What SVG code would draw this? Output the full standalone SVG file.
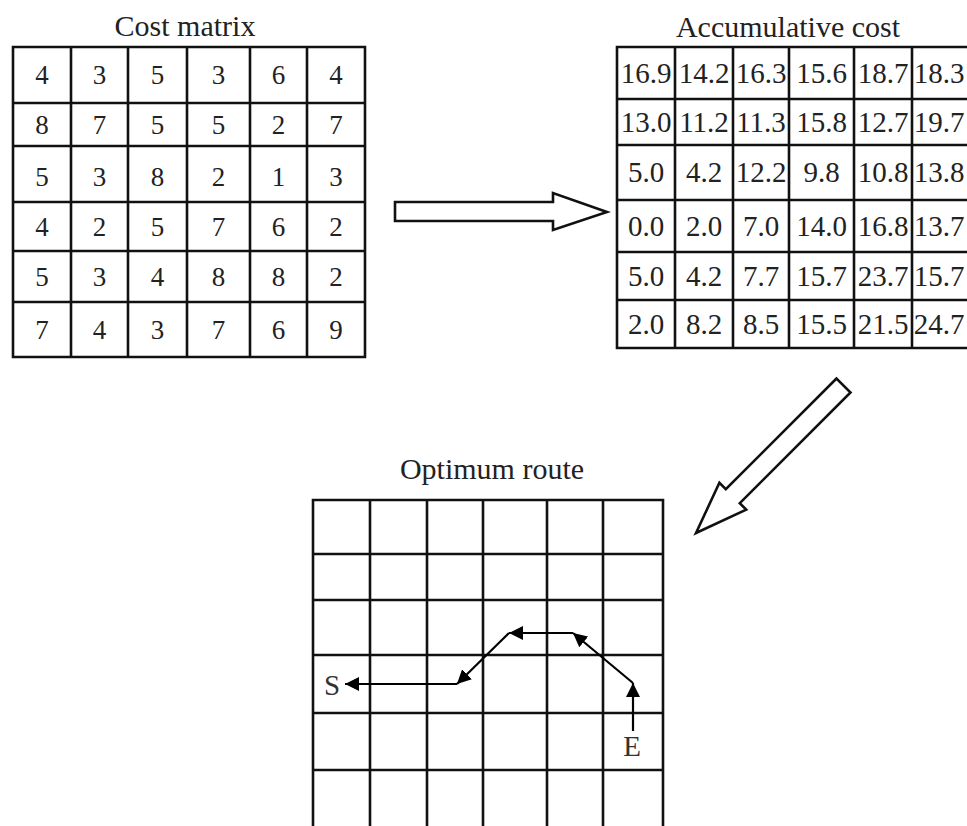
<svg xmlns="http://www.w3.org/2000/svg" width="967" height="826" viewBox="0 0 967 826">
<defs>
<style>
.grid{fill:none;stroke:#111;stroke-width:2.6}
.title{font-family:"Liberation Serif","Times New Roman",serif;font-size:30px;fill:#222;text-anchor:middle}
.num{font-family:"Liberation Serif","Times New Roman",serif;font-size:27px;fill:#222;text-anchor:middle}
.acc{font-family:"Liberation Serif","Times New Roman",serif;font-size:29px;fill:#222;text-anchor:middle}
.lbl{font-family:"Liberation Serif","Times New Roman",serif;font-size:29px;fill:#333;text-anchor:middle}
.big{fill:#fff;stroke:#111;stroke-width:2.6;stroke-linejoin:miter}
.route{fill:none;stroke:#000;stroke-width:2.2}
</style>
<marker id="ah" viewBox="0 0 14 14" markerWidth="14" markerHeight="14" refX="14" refY="7" orient="auto" markerUnits="userSpaceOnUse">
<path d="M0,0 L14,7 L0,14 z" fill="#000"/>
</marker>
</defs>
<rect width="967" height="826" fill="#fff"/>

<g id="cost-matrix">
<text class="title" x="185" y="36">Cost matrix</text>
<path class="grid" d="M13,47H365V357H13Z M71,47V357 M128,47V357 M187,47V357 M250,47V357 M307,47V357 M13,103H365 M13,146H365 M13,202H365 M13,251H365 M13,302H365"/>
<g class="num">
<text x="42" y="84">4</text><text x="99.5" y="84">3</text><text x="157.5" y="84">5</text><text x="218.5" y="84">3</text><text x="278.5" y="84">6</text><text x="336" y="84">4</text>
<text x="42" y="134">8</text><text x="99.5" y="134">7</text><text x="157.5" y="134">5</text><text x="218.5" y="134">5</text><text x="278.5" y="134">2</text><text x="336" y="134">7</text>
<text x="42" y="186">5</text><text x="99.5" y="186">3</text><text x="157.5" y="186">8</text><text x="218.5" y="186">2</text><text x="278.5" y="186">1</text><text x="336" y="186">3</text>
<text x="42" y="236">4</text><text x="99.5" y="236">2</text><text x="157.5" y="236">5</text><text x="218.5" y="236">7</text><text x="278.5" y="236">6</text><text x="336" y="236">2</text>
<text x="42" y="286">5</text><text x="99.5" y="286">3</text><text x="157.5" y="286">4</text><text x="218.5" y="286">8</text><text x="278.5" y="286">8</text><text x="336" y="286">2</text>
<text x="42" y="339">7</text><text x="99.5" y="339">4</text><text x="157.5" y="339">3</text><text x="218.5" y="339">7</text><text x="278.5" y="339">6</text><text x="336" y="339">9</text>
</g>
</g>

<g id="accumulative-cost">
<text class="title" x="788" y="37">Accumulative cost</text>
<path class="grid" d="M972,47H617V348H972 M675,47V348 M733,47V348 M789,47V348 M854,47V348 M912,47V348 M617,99H972 M617,145H972 M617,200H972 M617,252H972 M617,300H972"/>
<g class="acc">
<text x="646" y="83">16.9</text><text x="704" y="83">14.2</text><text x="761" y="83">16.3</text><text x="821.5" y="83">15.6</text><text x="883" y="83">18.7</text><text x="939" y="83">18.3</text>
<text x="646" y="132">13.0</text><text x="704" y="132">11.2</text><text x="761" y="132">11.3</text><text x="821.5" y="132">15.8</text><text x="883" y="132">12.7</text><text x="939" y="132">19.7</text>
<text x="646" y="182">5.0</text><text x="704" y="182">4.2</text><text x="761" y="182">12.2</text><text x="821.5" y="182">9.8</text><text x="883" y="182">10.8</text><text x="939" y="182">13.8</text>
<text x="646" y="236">0.0</text><text x="704" y="236">2.0</text><text x="761" y="236">7.0</text><text x="821.5" y="236">14.0</text><text x="883" y="236">16.8</text><text x="939" y="236">13.7</text>
<text x="646" y="286">5.0</text><text x="704" y="286">4.2</text><text x="761" y="286">7.7</text><text x="821.5" y="286">15.7</text><text x="883" y="286">23.7</text><text x="939" y="286">15.7</text>
<text x="646" y="334">2.0</text><text x="704" y="334">8.2</text><text x="761" y="334">8.5</text><text x="821.5" y="334">15.5</text><text x="883" y="334">21.5</text><text x="939" y="334">24.7</text>
</g>
</g>

<g id="optimum-route">
<text class="title" x="492" y="479">Optimum route</text>
<path class="grid" d="M313,830V500H663V830 M370,500V830 M427,500V830 M483,500V830 M547,500V830 M603,500V830 M313,554H663 M313,600H663 M313,655H663 M313,713H663 M313,770H663"/>
<text class="lbl" x="332" y="695">S</text>
<text class="lbl" x="632" y="756">E</text>
</g>

<g id="connectors">
<polygon id="arrow-right" class="big" points="395,202 553,202 553,193 607,212 553,230 553,221 395,221"/>
<polygon id="arrow-down-left" class="big" points="836.5,378.5 725.8,489.2 719.4,482.8 696,533 746.2,509.6 739.8,503.2 850.5,392.5"/>
<g id="route-path">
<line class="route" x1="633" y1="731" x2="633" y2="683" marker-end="url(#ah)"/>
<line class="route" x1="633" y1="683" x2="573" y2="633" marker-end="url(#ah)"/>
<line class="route" x1="573" y1="633" x2="509" y2="633" marker-end="url(#ah)"/>
<line class="route" x1="509" y1="633" x2="457" y2="684" marker-end="url(#ah)"/>
<line class="route" x1="457" y1="684" x2="345" y2="684" marker-end="url(#ah)"/>
</g>
</g>
</svg>
